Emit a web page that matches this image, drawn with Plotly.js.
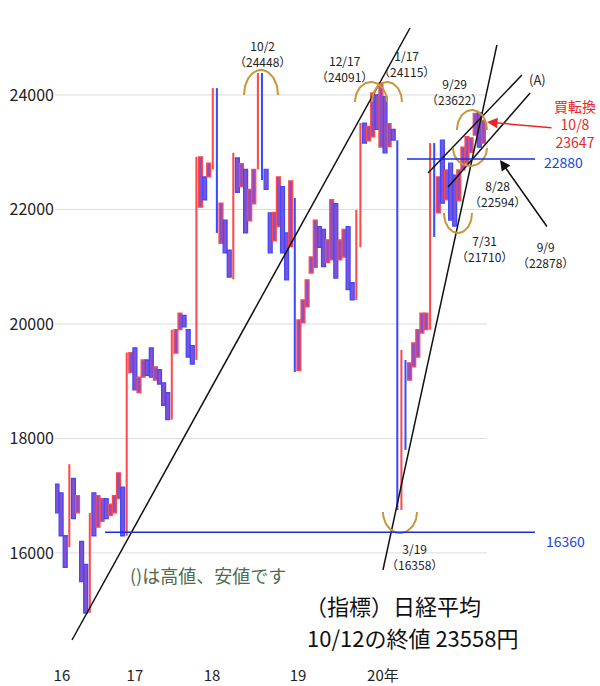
<!DOCTYPE html>
<html><head><meta charset="utf-8">
<script src="https://cdn.plot.ly/plotly-3.0.1.min.js"></script>
<style>html,body{margin:0;padding:0;background:#fff}#chart{width:600px;height:686px}</style>
</head><body><div id="chart"></div>
<script>
// ---- data (step bars: start value -> end value) ----
const barFrom = [
 17200,17050,16300,16100,17300,16700,16200,15800,14950,17050,16450,16550,16950,16650,16700,16950,17150,
 16300,
 19150,19580,18800,19070,19370,19580,19020,19200,18970,18800,18330,19490,19900,20150,19900,19620,
 19370,
 22040,22570,22570,22700,24120,21410,21815,21290,20780,22900,22400,22700,21800,22100,22700,24384,22700,21940,21450,21700,22400,21590,21350,
 22200,
 19190,20020,20300,20890,20990,21700,21650,21070,21120,22100,21120,21170,21700,20720,20420,
 21340,
 23510,23200,23270,24000,23090,23970,23100,23400,
 23210,
 16750,19370,19020,19250,19420,19840,19900,
 19900,
 23160,21940,23210,22170,22810,22600,22150,22690,22810,23000,23300,23690,23160
];
const barTo = [
 16700,16300,15750,17550,16600,17000,15500,14950,16700,16300,17000,16950,16600,16850,17000,17400,16300,
 19500,
 19500,18850,19070,19370,19100,19070,19250,18950,18580,18330,19900,19900,20190,19950,19420,19300,
 22920,
 22920,22170,22810,24120,21590,22110,21240,20820,22990,22300,22800,21590,22350,22700,24384,22515,22350,21240,21950,22570,21240,20770,22500,
 19160,
 20070,20420,20770,21170,21815,21340,21000,21470,22170,20800,21470,21650,20600,20420,21990,
 23510,
 23160,23450,24035,23400,24210,22990,23500,23210,
 16750,
 19545,17800,19320,19670,19900,20190,20190,
 23160,
 21520,22570,22110,22690,21815,21710,22690,23090,23270,23250,23680,23090,23558
];
const yearLabels = ['16','17','18','19','20年'];
const yearPos = [1.2, 19.0, 37.8, 58.8, 79.5];
const priceTicks = [16000,18000,20000,22000,24000];

// ---- axes geometry ----
const X0 = -0.488, X1 = 132.44, Y0 = 14042, Y1 = 25310;
const L = 55, T = 20, W = 545, H = 645;
const pxPerIdx = W/(X1-X0), pricePerPx = (Y1-Y0)/H;
const ix = px => X0 + (px-L)/pxPerIdx;
const pr = py => Y1 - (py-T)*pricePerPx;

const boxX=[],boxBase=[],boxH=[],boxLine=[];
const lnX=[],lnBase=[],lnH=[],lnCol=[];
for(let i=0;i<barFrom.length;i++){
  const a=barFrom[i], b=barTo[i], up=b>a;
  if(Math.abs(b-a)>1400){
    lnX.push(i); lnBase.push(Math.min(a,b)); lnH.push(Math.abs(b-a)); lnCol.push(up?'#ff4a4a':'#3a4cff');
  } else {
    boxX.push(i); boxBase.push(Math.min(a,b)); boxH.push(Math.abs(b-a)); boxLine.push(up?'#ff4a4a':'#3a4cff');
  }
}

const traces = [
 {type:'bar', x:lnX, base:lnBase, y:lnH, width:0.5, marker:{color:lnCol, line:{width:0}}, hoverinfo:'skip'},
 {type:'bar', x:boxX, base:boxBase, y:boxH, width:0.95,
  marker:{color:'rgba(125,60,200,0.9)', line:{color:boxLine, width:1.3}}, hoverinfo:'skip'}
];

// trend lines (index, price)
const trendLines = [
 [[3.66,14479],[86.1,25170]],
 [[79.5,15702],[107.3,24874]],
 [[90.5,22637],[113.4,24349]],
 [[95.4,22393],[115.4,24035]]
];
trendLines.forEach(l=>traces.push({type:'scatter',mode:'lines',x:[l[0][0],l[1][0]],y:[l[0][1],l[1][1]],
  line:{color:'#111',width:1.5},hoverinfo:'skip'}));

// horseshoe arcs: center px, radii px, dir (+1 = opening down)
const arcs = [
 [261,95,17,25,1],[371,102,16,20,1],[387,102,15,20,1],[472,130,15,20,1],
 [470,148,17,18,-1],[458,213,14,20,-1],[400,512,17,21,-1]
];
arcs.forEach(a=>{
  const xs=[],ys=[];
  for(let k=0;k<=40;k++){const t=Math.PI*k/40;
    xs.push(ix(a[0]+a[2]*Math.cos(t))); ys.push(pr(a[1]-a[4]*a[3]*Math.sin(t)));}
  traces.push({type:'scatter',mode:'lines',x:xs,y:ys,line:{color:'#c8963c',width:2},hoverinfo:'skip'});
});

const shapes = [];
priceTicks.forEach(v=>shapes.push({type:'line',xref:'x',yref:'y',x0:X0,x1:ix(487),y0:v,y1:v,
  line:{color:'#dddddd',width:1},layer:'below'}));
shapes.push({type:'line',xref:'x',yref:'y',x0:ix(105),x1:ix(535),y0:16360,y1:16360,line:{color:'#1a2ee0',width:1.5}});
shapes.push({type:'line',xref:'x',yref:'y',x0:ix(407),x1:ix(535),y0:22880,y1:22880,line:{color:'#1a2ee0',width:1.5}});

const F='"Noto Sans CJK JP", "Noto Sans", sans-serif';
const ann=[];
function txt(s,px,py,size,color,anchor){ann.push({text:s,xref:'x',yref:'y',x:ix(px),y:pr(py),showarrow:false,
  font:{family:F,size:size,color:color},xanchor:anchor||'center',yanchor:'middle',align:anchor||'center'});}
txt('10/2<br>（24448）',262,53,12,'#222');
txt('12/17<br>（24091）',344,68,12,'#222');
txt('1/17<br>（24115）',406,63,12,'#222');
txt('9/29<br>（23622）',454,91,12,'#222');
txt('8/28<br>（22594）',497,193,12,'#222');
txt('7/31<br>（21710）',484,248,12,'#222');
txt('9/9<br>（22878）',545,254,12,'#222');
txt('3/19<br>（16358）',414,556,12,'#222');
txt('(A)',537,79,13,'#222');
txt('買転換<br>10/8<br>23647',575,124,14,'#e82828');
txt('22880',563,162,14,'#2244dd'); txt('16360',565,541,14,'#2244dd');
txt('()は高値、安値です',128,575,18,'#4d6b4d','left');
txt('（指標）日経平均',303,605,22,'#111','left');
txt('10/12の終値 23558円',305,637,22,'#111','left');
ann.push({text:'',xref:'x',yref:'y',axref:'x',ayref:'y',x:ix(487),y:pr(122),ax:ix(553),ay:pr(128),
  showarrow:true,arrowhead:2,arrowsize:1.4,arrowwidth:1.5,arrowcolor:'#e82828'});
ann.push({text:'',xref:'x',yref:'y',axref:'x',ayref:'y',x:ix(500),y:pr(160),ax:ix(548),ay:pr(228),
  showarrow:true,arrowhead:2,arrowsize:1.4,arrowwidth:1.5,arrowcolor:'#111'});

const layout = {
  width:600,height:686,margin:{l:L,r:0,t:T,b:21},paper_bgcolor:'#fff',plot_bgcolor:'#fff',
  showlegend:false,barmode:'overlay',
  xaxis:{range:[X0,X1],showgrid:false,zeroline:false,showline:false,ticks:'',
    tickvals:yearPos,ticktext:yearLabels,tickfont:{family:F,size:15,color:'#222'}},
  yaxis:{range:[Y0,Y1],showgrid:false,zeroline:false,showline:false,ticks:'',
    tickvals:priceTicks,ticktext:priceTicks.map(String),tickfont:{family:F,size:16,color:'#222'}},
  shapes:shapes,annotations:ann
};
Plotly.newPlot('chart',traces,layout,{staticPlot:true});
</script></body></html>
